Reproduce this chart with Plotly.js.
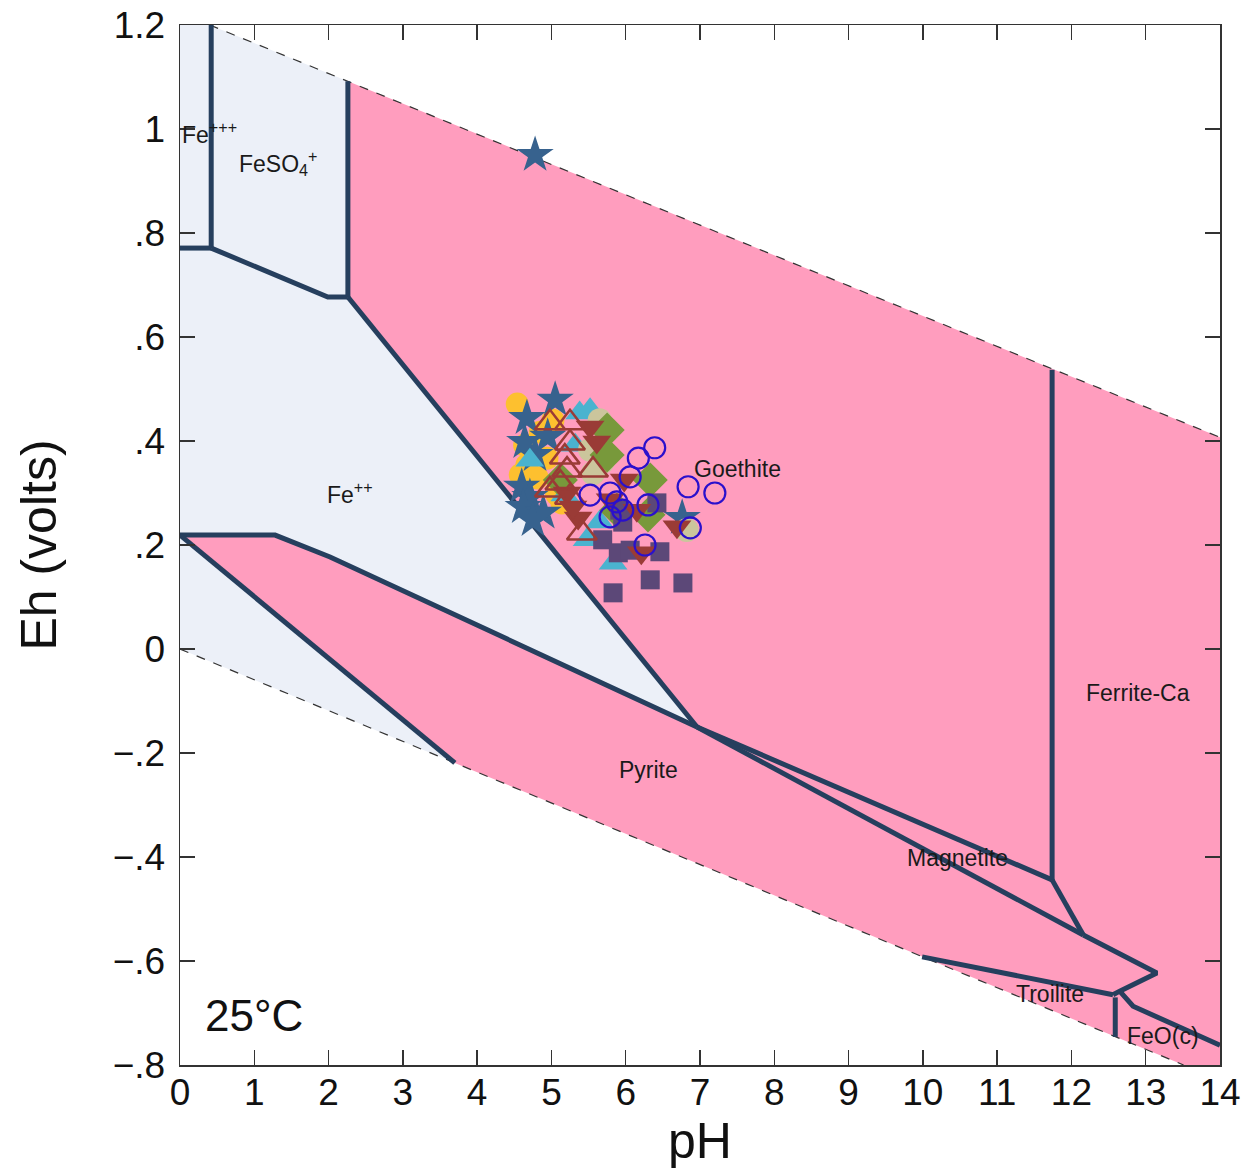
<!DOCTYPE html>
<html>
<head>
<meta charset="utf-8">
<script src="https://cdn.plot.ly/plotly-3.0.1.min.js"></script>
<style>html,body{margin:0;padding:0;background:#fff}#chart{width:1244px;height:1169px}</style>
</head>
<body>
<div id="chart"></div>
<script>
// ---- axis ticks ----
const xTickVals = [0,1,2,3,4,5,6,7,8,9,10,11,12,13,14];
const yTickVals = [1.2,1,0.8,0.6,0.4,0.2,0,-0.2,-0.4,-0.6,-0.8];
const yTickText = ["1.2","1",".8",".6",".4",".2","0","\u2212.2","\u2212.4","\u2212.6","\u2212.8"];

// ---- stability field polygons (pH, Eh) ----
const aqueousPH = [0,0.4,2.26,2.26,6.96,3.7,0];
const aqueousEh = [1.2,1.2,1.092,0.677,-0.15,-0.219,0];
const mineralPH = [2.26,14,14,13.51,3.7,0,1.28,2.02,6.96,2.26];
const mineralEh = [1.092,0.407,-0.8,-0.8,-0.219,0.219,0.219,0.177,-0.15,0.677];

// ---- water stability limits ----
const o2LimitPH = [0.4,14];   const o2LimitEh = [1.2,0.407];
const h2LimitPH = [0,13.51];  const h2LimitEh = [0,-0.8];

// ---- field boundaries ----
const boundaries = [
  {ph:[0.42,0.42], eh:[1.2,0.771]},
  {ph:[0,0.42], eh:[0.771,0.771]},
  {ph:[0.42,1.99,2.26], eh:[0.771,0.677,0.677]},
  {ph:[2.26,2.26], eh:[1.092,0.677]},
  {ph:[2.26,6.96], eh:[0.677,-0.15]},
  {ph:[0,1.28,2.02,6.96], eh:[0.219,0.219,0.177,-0.15]},
  {ph:[0,3.7], eh:[0.219,-0.219]},
  {ph:[6.96,11.74], eh:[-0.15,-0.444]},
  {ph:[6.96,12.16], eh:[-0.15,-0.55]},
  {ph:[11.74,11.74], eh:[0.537,-0.444]},
  {ph:[11.74,12.16], eh:[-0.444,-0.55]},
  {ph:[12.16,13.15,12.65,12.56], eh:[-0.55,-0.623,-0.658,-0.665]},
  {ph:[9.99,12.56], eh:[-0.592,-0.665]},
  {ph:[12.59,12.59], eh:[-0.670,-0.746]},
  {ph:[12.65,12.83,14], eh:[-0.658,-0.687,-0.762]}
];

// ---- field labels ----
const labelText = ["Fe<sup>+++</sup>","FeSO<sub>4</sub><sup>+</sup>","Fe<sup>++</sup>","Goethite","Pyrite","Ferrite-Ca","Magnetite","Troilite","FeO(c)"];
const labelPH = [0.0,1.32,2.29,7.51,6.30,12.9,10.47,11.71,13.23];
const labelEh = [0.992,0.935,0.30,0.346,-0.233,-0.085,-0.402,-0.663,-0.744];
const labelAnchor = ["left","center","center","center","center","center","center","center","center"];

// ---- samples (pH, Eh) ----
const goldPH = [4.54,5.02,4.64,4.85,4.94,4.67,4.81,5.07,5.14,4.58];
const goldEh = [0.471,0.440,0.392,0.417,0.367,0.354,0.329,0.298,0.281,0.335];
const starPH = [4.78,5.05,4.67,4.64,4.78,4.95,4.60,4.71,4.62,4.89,4.75,6.76];
const starEh = [0.950,0.479,0.444,0.398,0.373,0.408,0.312,0.292,0.273,0.262,0.248,0.252];
const cyanPH = [5.38,5.52,4.71,5.32,5.48,5.83,5.65,5.18];
const cyanEh = [0.454,0.460,0.363,0.392,0.210,0.165,0.244,0.296];
const khakiPH = [5.65,5.52,5.56,6.82,5.69];
const khakiEh = [0.440,0.383,0.338,0.229,0.360];
const olivePH = [5.75,5.75,6.33,6.30,5.88,5.12];
const oliveEh = [0.421,0.373,0.325,0.258,0.267,0.325];
const squarePH = [6.42,5.92,5.69,5.90,6.06,6.46,5.83,6.33,6.77,5.96];
const squareEh = [0.281,0.267,0.210,0.185,0.190,0.187,0.108,0.133,0.127,0.244];
const downPH = [5.52,5.61,5.36,5.21,5.98,6.15,6.21,6.69,5.29,5.79];
const downEh = [0.427,0.398,0.252,0.300,0.325,0.267,0.185,0.235,0.273,0.287];
const openTriPH = [4.98,5.25,5.25,5.18,5.21,5.12,4.98,5.25,5.56,5.41];
const openTriEh = [0.435,0.435,0.396,0.369,0.344,0.319,0.306,0.292,0.344,0.223];
const ringPH = [6.39,6.17,6.06,5.52,5.79,5.88,5.96,5.79,6.30,6.26,6.84,6.87,7.20];
const ringEh = [0.387,0.367,0.331,0.296,0.300,0.283,0.267,0.254,0.277,0.200,0.312,0.233,0.300];

const FONT = "Liberation Sans, Arial, Helvetica, sans-serif";
const LINE = "#263f5e";

const traces = [];
traces.push({x:aqueousPH, y:aqueousEh, type:"scatter", mode:"lines", fill:"toself", fillcolor:"rgb(236,240,248)", line:{width:0}, hoverinfo:"skip"});
traces.push({x:mineralPH, y:mineralEh, type:"scatter", mode:"lines", fill:"toself", fillcolor:"rgb(255,157,190)", line:{width:0}, hoverinfo:"skip"});
traces.push({x:o2LimitPH, y:o2LimitEh, type:"scatter", mode:"lines", line:{color:"#333", width:1.2, dash:"dash"}, hoverinfo:"skip"});
traces.push({x:h2LimitPH, y:h2LimitEh, type:"scatter", mode:"lines", line:{color:"#333", width:1.2, dash:"dash"}, hoverinfo:"skip"});
const bx = [], by = [];
boundaries.forEach(b => { bx.push(...b.ph, null); by.push(...b.eh, null); });
traces.push({x:bx, y:by, type:"scatter", mode:"lines", line:{color:LINE, width:5}, connectgaps:false, hoverinfo:"skip"});

function pts(x, y, symbol, size, color, lineColor, lineWidth) {
  return {x:x, y:y, type:"scatter", mode:"markers", hoverinfo:"skip",
    marker:{symbol:symbol, size:size, color:color, line:{color:lineColor||color, width:lineWidth||0}}};
}
traces.push(pts(goldPH, goldEh, "circle", 23, "#fdc02f"));
traces.push(pts(starPH, starEh, "star", 28, "#37628e"));
traces.push(pts(cyanPH, cyanEh, "triangle-up", 25, "#4ab3cf"));
traces.push(pts(khakiPH, khakiEh, "circle", 24, "#cbc59c"));
traces.push(pts(olivePH, oliveEh, "diamond", 27, "#78993b"));
traces.push(pts(squarePH, squareEh, "square", 19, "#5c4878"));
traces.push(pts(downPH, downEh, "triangle-down", 25, "#9a3b36"));
traces.push(pts(openTriPH, openTriEh, "triangle-up-open", 26, "#9a3b36", "#9a3b36", 2.5));
traces.push(pts(ringPH, ringEh, "circle-open", 21, "#2a10cc", "#2a10cc", 2.2));

const annotations = labelText.map((t, i) => ({
  text:t, x:labelPH[i], y:labelEh[i], xref:"x", yref:"y", xanchor:labelAnchor[i], yanchor:"middle",
  showarrow:false, font:{family:FONT, size:23, color:"#1a1a1a"}
}));
annotations.push({text:"25°C", xref:"paper", yref:"paper", x:0.022, y:0.048, xanchor:"left", yanchor:"middle", showarrow:false,
  font:{family:FONT, size:44, color:"#111"}});

const layout = {
  width:1244, height:1169,
  margin:{l:180, r:24, t:25, b:104},
  paper_bgcolor:"#fff", plot_bgcolor:"#fff",
  showlegend:false,
  font:{family:FONT, color:"#111"},
  xaxis:{range:[0,14], tickvals:xTickVals, ticks:"inside", ticklen:15, tickwidth:1.3, tickcolor:"#333",
    showline:true, linecolor:"#333", linewidth:1.5, mirror:"ticks", showgrid:false, zeroline:false,
    tickfont:{family:FONT, size:37, color:"#111"}, ticklabelstandoff:-6,
    title:{text:"pH", font:{family:FONT, size:50, color:"#111"}, standoff:6}},
  yaxis:{range:[-0.8,1.2], tickvals:yTickVals, ticktext:yTickText, ticks:"inside", ticklen:15, tickwidth:1.3, tickcolor:"#333",
    showline:true, linecolor:"#333", linewidth:1.5, mirror:"ticks", showgrid:false, zeroline:false,
    tickfont:{family:FONT, size:37, color:"#111"}, ticklabelstandoff:6,
    title:{text:"Eh (volts)", font:{family:FONT, size:50, color:"#111"}, standoff:40}},
  annotations:annotations
};

Plotly.newPlot("chart", traces, layout, {staticPlot:true, displayModeBar:false});
</script>
</body>
</html>
